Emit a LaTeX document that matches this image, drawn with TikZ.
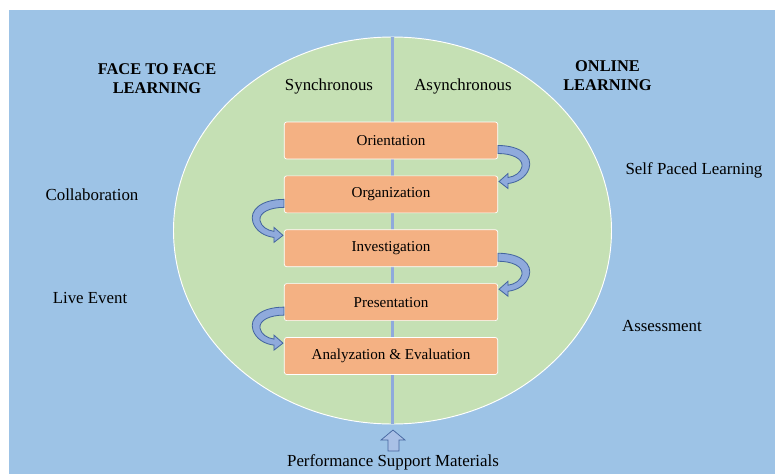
\documentclass[tikz,border=0pt]{standalone}
\usepackage{fontspec}
\setmainfont{Liberation Serif}
\usetikzlibrary{positioning}

\definecolor{skyback}{HTML}{9DC3E6}
\definecolor{leafgreen}{HTML}{C5E0B4}
\definecolor{peach}{HTML}{F4B183}
\definecolor{lineblue}{HTML}{8FAADC}
\definecolor{edgeblue}{HTML}{44659F}
\definecolor{paleblue}{HTML}{A9C0E6}

\begin{document}
\begin{tikzpicture}[
  x=0.03cm, y=-0.03cm,
  node distance=0.485cm,
  phase/.style={draw=white, line width=0.6pt, rounded corners=2pt, fill=peach,
    minimum width=6.4cm, minimum height=1.11cm, inner sep=0pt,
    font=\fontsize{12.9}{15}\selectfont},
  tag/.style={font=\fontsize{14.4}{17}\selectfont, inner sep=1pt},
  heading/.style={align=center, font=\bfseries\fontsize{14}{16.2}\selectfont, inner sep=1pt},
  loopback/.pic={
    \draw[draw=edgeblue, fill=lineblue, line width=0.7pt]
      (0,5) .. controls (23,5) and (35,16) .. (31,28)
      .. controls (28,37) and (19,42) .. (10,43) -- (10,48) -- (1,41)
      -- (10,33) -- (10,37) .. controls (17,36) and (23,32) .. (24,26)
      .. controls (25,18) and (14,13) .. (0,13) -- cycle;
  }
]
\useasboundingbox (0,0) rectangle (775,474);
\fill[skyback] (9,10) rectangle (775,474);

% blended area and the sync/async split
\draw[draw=white, line width=0.8pt, fill=leafgreen]
  (392.5,230.5) ellipse [x radius=219, y radius=193.5];
\coordinate (top) at (392.5,37);
\coordinate (bottom) at (392.5,424);
\draw[lineblue, line width=3.2pt] (top) -- (bottom);

\node[heading] (f2f) at (157,79) {FACE TO FACE\\LEARNING};
\node[heading] (online) at (607.5,76) {ONLINE\\LEARNING};
\node[tag] (sync) at (329,86) {Synchronous};
\node[tag] (async) at (463,86) {Asynchronous};

% phases
\node[phase] (orient) at (391,140.5) {Orientation};
\node[phase, below=of orient] (organ) {Organization};
\node[phase, below=of organ] (invest) {Investigation};
\node[phase, below=of invest] (present) {Presentation};
\node[phase, below=of present] (analyze) {Analyzation \& Evaluation};

\pic at (orient.east) {loopback};
\pic[xscale=-1] at (organ.west) {loopback};
\pic at (invest.east) {loopback};
\pic[xscale=-1] at (present.west) {loopback};

% side labels
\node[tag] (collab) at (92,195) {Collaboration};
\node[tag] (live) at (90,298) {Live Event};
\node[tag] (selfpaced) at (694,170) {Self Paced Learning};
\node[tag] (assess) at (662,326) {Assessment};

\node[tag] (support) at (393,462) {Performance Support Materials};
\draw[draw=edgeblue, fill=paleblue, line width=0.6pt]
  (388,451) -- (388,440) -- (381,440) -- (393,430) -- (405,440)
  -- (399,440) -- (399,451) -- cycle;
\end{tikzpicture}
\end{document}
